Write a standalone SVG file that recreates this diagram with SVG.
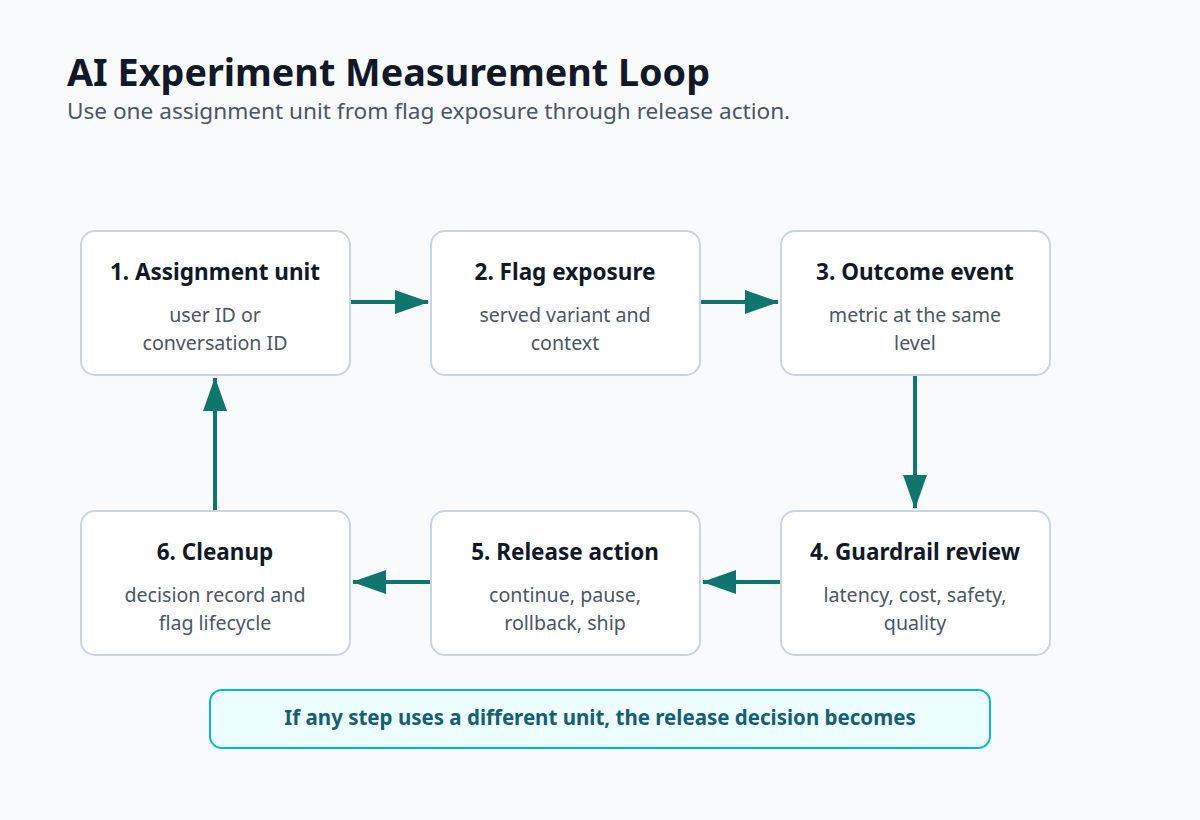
<svg xmlns="http://www.w3.org/2000/svg" width="1200" height="820" viewBox="0 0 1200 820">
<style>
text{font-family:"Noto Sans","Open Sans",sans-serif}
.box{fill:#fff;stroke:#cbd5e1;stroke-width:2}
.t{font-size:22.5px;font-weight:bold;fill:#111827;text-anchor:middle}
.d{font-size:19.6px;fill:#4b5563;text-anchor:middle}
</style>
<defs><marker id="b" viewBox="0 0 34 24" refX="33" refY="12" markerWidth="34" markerHeight="24" markerUnits="userSpaceOnUse" orient="auto"><path d="M0,0 L34,12 L0,24 z" fill="#0f766e"/></marker></defs>
<rect width="1200" height="820" fill="#f8fafc"/>
<text x="67" y="86" font-size="37.5" font-weight="bold" fill="#111827" textLength="643" lengthAdjust="spacingAndGlyphs">AI Experiment Measurement Loop</text>
<text x="67" y="119" font-size="22.6" fill="#4b5563">Use one assignment unit from flag exposure through release action.</text>
<g id="connectors" stroke="#0f766e" stroke-width="4">
<line x1="350" y1="302" x2="428" y2="302" marker-end="url(#b)"/>
<line x1="700" y1="302" x2="778" y2="302" marker-end="url(#b)"/>
<line x1="915" y1="375" x2="915" y2="508" marker-end="url(#b)"/>
<line x1="781" y1="582" x2="703" y2="582" marker-end="url(#b)"/>
<line x1="431" y1="582" x2="353" y2="582" marker-end="url(#b)"/>
<line x1="215" y1="511" x2="215" y2="378" marker-end="url(#b)"/>
</g>
<g id="n1"><rect class="box" x="81" y="231" width="269" height="144" rx="14"/><text class="t" x="215" y="280">1. Assignment unit</text><text class="d" x="215" y="322">user ID or</text><text class="d" x="215" y="350">conversation ID</text></g>
<g id="n2"><rect class="box" x="431" y="231" width="269" height="144" rx="14"/><text class="t" x="565" y="280">2. Flag exposure</text><text class="d" x="565" y="322">served variant and</text><text class="d" x="565" y="350">context</text></g>
<g id="n3"><rect class="box" x="781" y="231" width="269" height="144" rx="14"/><text class="t" x="915" y="280">3. Outcome event</text><text class="d" x="915" y="322">metric at the same</text><text class="d" x="915" y="350">level</text></g>
<g id="n4"><rect class="box" x="781" y="511" width="269" height="144" rx="14"/><text class="t" x="915" y="560">4. Guardrail review</text><text class="d" x="915" y="602">latency, cost, safety,</text><text class="d" x="915" y="630">quality</text></g>
<g id="n5"><rect class="box" x="431" y="511" width="269" height="144" rx="14"/><text class="t" x="565" y="560">5. Release action</text><text class="d" x="565" y="602">continue, pause,</text><text class="d" x="565" y="630">rollback, ship</text></g>
<g id="n6"><rect class="box" x="81" y="511" width="269" height="144" rx="14"/><text class="t" x="215" y="560">6. Cleanup</text><text class="d" x="215" y="602">decision record and</text><text class="d" x="215" y="630">flag lifecycle</text></g>
<g id="note"><rect x="210" y="690" width="780" height="58" rx="12" fill="#ecfeff" stroke="#06b6d4" stroke-width="2"/><text x="600" y="725" font-size="20.5" font-weight="bold" fill="#155e75" text-anchor="middle">If any step uses a different unit, the release decision becomes</text></g>
</svg>
